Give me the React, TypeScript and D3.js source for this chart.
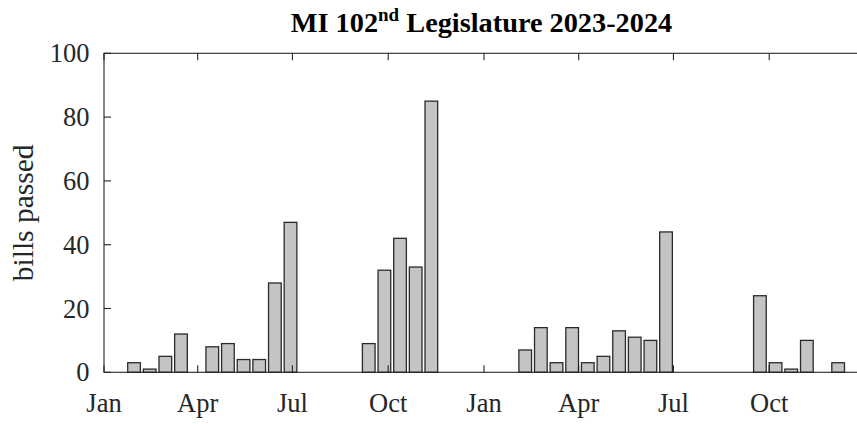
import React from "react";
import * as d3 from "d3";

// Bills passed per ~half-month bin, 2023-2024 (48 bins)
const counts: number[] = [
  0, 0, 3, 1, 5, 12, 0, 8, 9, 4, 4, 28, 47, 0, 0, 0, 0, 9, 32, 42, 33, 85, 0, 0,
  0, 0, 0, 7, 14, 3, 14, 3, 5, 13, 11, 10, 44, 0, 0, 0, 0, 0, 24, 3, 1, 10, 0, 3,
];
const binOriginDay = -1.2; // center of bin 0, days after Jan 1 2023
const binDays = 15.03;
const tickDates: Date[] = [
  new Date(2023, 0, 1), new Date(2023, 3, 1), new Date(2023, 6, 1), new Date(2023, 9, 1),
  new Date(2024, 0, 1), new Date(2024, 3, 1), new Date(2024, 6, 1), new Date(2024, 9, 1),
];
const yTicks: number[] = [0, 20, 40, 60, 80, 100];
const xStart = new Date(2023, 0, 1);
const xEnd = new Date(2025, 0, 1);

const W = 857, H = 424;
const L = 104, R = 865, T = 53.3, B = 372.3;
const DAY = 86400000;
const monthFmt = d3.timeFormat("%b");

export default function App() {
  const x = d3.scaleTime().domain([xStart, xEnd]).range([L, R]);
  const y = d3.scaleLinear().domain([0, 100]).range([B, T]);
  const pxPerDay = (R - L) / ((+xEnd - +xStart) / DAY);
  const barW = binDays * 0.81 * pxPerDay;
  const axisColor = "#262626";
  const font = "'Liberation Serif', 'Times New Roman', serif";
  const tickLen = 7;
  return (
    <svg width={W} height={H} style={{ position: "absolute", left: 0, top: 0, background: "#fff" }}
      fontFamily={font}>
      <rect x={0} y={0} width={W} height={H} fill="#fff" />
      {counts.map((c, k) => {
        if (c <= 0) return null;
        const center = new Date(+xStart + (binOriginDay + binDays * k) * DAY);
        const cx = x(center);
        return (
          <rect key={k} x={cx - barW / 2} y={y(c)} width={barW} height={y(0) - y(c)}
            fill="#c4c4c4" stroke="#2a2a2a" strokeWidth={1.3} />
        );
      })}
      {/* box */}
      <rect x={L} y={T} width={R - L} height={B - T} fill="none" stroke={axisColor} strokeWidth={1.1} />
      {yTicks.map((t) => (
        <g key={"y" + t}>
          <line x1={L} x2={L + tickLen} y1={y(t)} y2={y(t)} stroke={axisColor} strokeWidth={1.1} />
          <line x1={R} x2={R - tickLen} y1={y(t)} y2={y(t)} stroke={axisColor} strokeWidth={1.1} />
          <text x={L - 14.5} y={y(t) + 9} textAnchor="end" fontSize={26.5} fill="#262626">{t}</text>
        </g>
      ))}
      {tickDates.map((d, i) => (
        <g key={"x" + i}>
          <line x1={x(d)} x2={x(d)} y1={B} y2={B - tickLen} stroke={axisColor} strokeWidth={1.1} />
          <line x1={x(d)} x2={x(d)} y1={T} y2={T + tickLen} stroke={axisColor} strokeWidth={1.1} />
          <text x={x(d)} y={412} textAnchor="middle" fontSize={26.5} fill="#262626">{monthFmt(d)}</text>
        </g>
      ))}
      <text transform={`translate(33, ${(T + B) / 2}) rotate(-90)`} textAnchor="middle" fontSize={29.5} fill="#262626">
        bills passed
      </text>
      <text x={481.5} y={32} textAnchor="middle" fontSize={28.3} fontWeight="bold" fill="#000">
        MI 102<tspan dy={-11} fontSize={19}>nd</tspan><tspan dy={11}> Legislature 2023-2024</tspan>
      </text>
    </svg>
  );
}
